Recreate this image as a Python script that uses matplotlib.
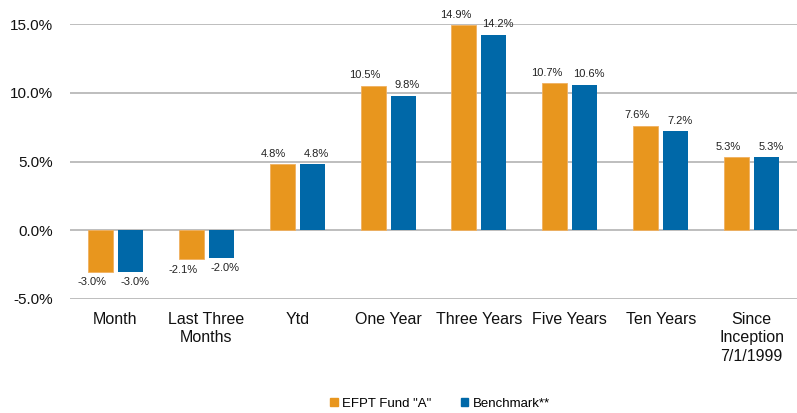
import matplotlib.pyplot as plt
import numpy as np
from matplotlib.patches import Patch

plt.rcParams['font.family'] = ['Liberation Sans', 'DejaVu Sans']

# --- data ---
categories = ["Month", "Last Three\nMonths", "Ytd", "One Year", "Three Years",
              "Five Years", "Ten Years", "Since\nInception\n7/1/1999"]
fund = [-3.0, -2.1, 4.8, 10.5, 14.9, 10.7, 7.6, 5.3]
bench = [-3.0, -2.0, 4.8, 9.8, 14.2, 10.6, 7.2, 5.3]
series_names = ['EFPT Fund "A"', 'Benchmark**']
yticks = [-5, 0, 5, 10, 15]

c_fund = '#E8961E'
c_bench = '#0068A8'

fig = plt.figure(figsize=(7.97, 4.13), dpi=100)
ax = fig.add_axes([70/797, 1-299/413, 1-70/797, (299-24)/413])

x = np.arange(len(categories))
w = 0.275
off = 0.165
b1 = ax.bar(x - off, fund, w, color=c_fund, edgecolor='#F0B060', linewidth=0.6, zorder=3)
b2 = ax.bar(x + off, bench, w, color=c_bench, zorder=3)

# value labels above / below each bar, nudged apart like the original
for bars, vals, dx in ((b1, fund, -6), (b2, bench, 3)):
    for b, v in zip(bars, vals):
        cx = b.get_x() + b.get_width()/2
        if v >= 0:
            ax.annotate(f'{v:.1f}%', (cx, v), xytext=(dx, 4), textcoords='offset points',
                        ha='center', va='bottom', fontsize=8, color='#222222')
        else:
            ax.annotate(f'{v:.1f}%', (cx, v), xytext=(dx, -4), textcoords='offset points',
                        ha='center', va='top', fontsize=8, color='#222222')

ax.set_ylim(-5, 15)
ax.set_xlim(-0.5, len(categories) - 0.5)
ax.set_yticks(yticks)
ax.set_yticklabels([f'{t:.1f}%' for t in yticks])
ax.set_xticks(x)
ax.set_xticklabels(categories, linespacing=1.3)
ax.tick_params(axis='y', length=0, pad=12, labelsize=11, colors='#111111')
ax.tick_params(axis='x', length=0, pad=9, labelsize=11.5, colors='#111111')
ax.yaxis.grid(True, color='#BEBEBE', linewidth=1.4, zorder=0)
ax.set_axisbelow(True)
for s in ax.spines.values():
    s.set_visible(False)

handles = [Patch(color=c_fund), Patch(color=c_bench)]
fig.legend(handles, series_names, loc='center', bbox_to_anchor=(0.552, 0.022),
           ncol=2, frameon=False, fontsize=9.5, handlelength=0.6, handleheight=0.6,
           handletextpad=0.3, columnspacing=2.2)

fig.savefig('out.png', dpi=100)
